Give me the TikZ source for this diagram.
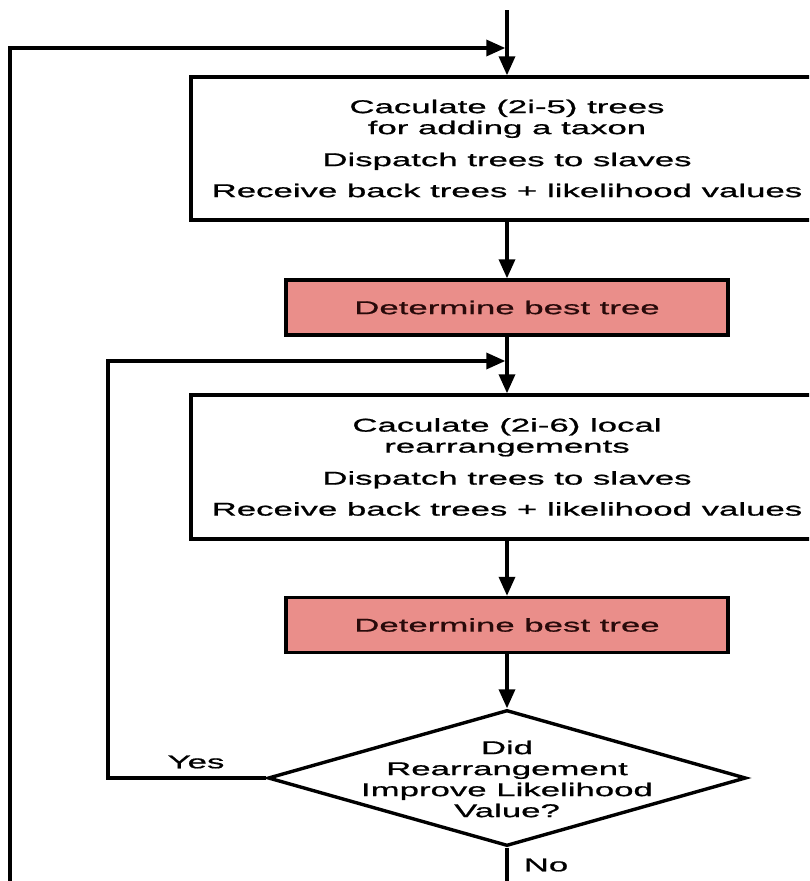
\documentclass[tikz,border=0pt]{standalone}
\usepackage{fontspec}
\setmainfont{Liberation Sans}[FakeStretch=1.88,FakeBold=0.9]
\usetikzlibrary{arrows.meta,shapes.geometric}
\definecolor{pinkfill}{RGB}{234,142,138}
\definecolor{pinktext}{RGB}{40,10,10}
\begin{document}
\begin{tikzpicture}[x=1pt,y=-1pt, line width=3.4pt,
  every node/.style={font=\fontsize{18.5}{21}\selectfont},
  flow/.style={-{Triangle[length=19pt,width=16pt]}},
  bigbox/.style={draw, fill=white, minimum width=632pt, minimum height=143pt, align=center, inner sep=0pt},
  pinkbox/.style={draw, fill=pinkfill, text=pinktext, minimum width=442pt, minimum height=55pt, inner sep=0pt},
  decision/.style={draw, diamond, minimum width=478pt, minimum height=136pt, inner sep=0pt}]
\useasboundingbox (0,0) rectangle (809,881);
\clip (0,0) rectangle (809,881);

\node[bigbox] (calc1) at (507,148.5) {Caculate (2i-5) trees\\for adding a taxon\\[11pt]Dispatch trees to slaves\\[10pt]Receive back trees + likelihood values};
\node[pinkbox] (best1) at (507,307.5) {Determine best tree};
\node[bigbox, minimum height=144pt] (calc2) at (507,467) {Caculate (2i-6) local\\rearrangements\\[11pt]Dispatch trees to slaves\\[10pt]Receive back trees + likelihood values};
\node[pinkbox] (best2) at (507,625) {Determine best tree};
\node[decision] (dec) at (507,778) {};
\node[align=center] (dectext) at (507,779) {Did\\Rearrangement\\Improve Likelihood\\Value?};
\node (yes) at (196,762) {Yes};
\node (no) at (546,865) {No};

\coordinate (start) at (507,10);
\coordinate (outer) at (10,48);
\coordinate (merge1) at (505.3,48);
\coordinate (inner) at (108,361);
\coordinate (merge2) at (505.3,361);
\coordinate (exit) at (507,900);

\draw[flow] (start) -- (calc1.north);
\draw[flow] (calc1.south) -- (best1.north);
\draw[flow] (best1.south) -- (calc2.north);
\draw[flow] (calc2.south) -- (best2.north);
\draw[flow] (best2.south) -- (dec.north);
\draw[flow] (dec.west) -| (inner) -- (merge2);
\draw[flow] (dec.south) -- (exit) -| (outer) -- (merge1);
\end{tikzpicture}
\end{document}
